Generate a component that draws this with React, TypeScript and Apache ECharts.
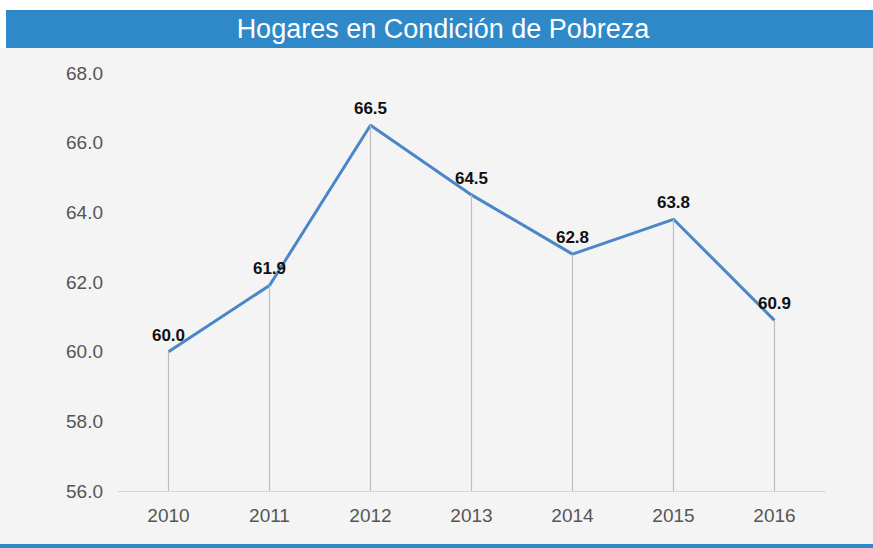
import React, { useEffect, useRef } from "react";
import * as echarts from "echarts";

const TITLE = "Hogares en Condición de Pobreza";
const YEARS = ["2010", "2011", "2012", "2013", "2014", "2015", "2016"];
const VALUES = [60.0, 61.9, 66.5, 64.5, 62.8, 63.8, 60.9];
const Y_MIN = 56;
const Y_MAX = 68;
const Y_STEP = 2;

export default function App() {
  const ref = useRef<HTMLDivElement>(null);
  useEffect(() => {
    if (!ref.current) return;
    const chart = echarts.init(ref.current, null, { renderer: "svg" });
    const font = "'Liberation Sans', Arial, sans-serif";
    chart.setOption({
      animation: false,
      backgroundColor: "#ffffff",
      graphic: [
        { type: "rect", left: 0, top: 48, z: -10, shape: { width: 873, height: 496 }, style: { fill: "#f4f4f4" } },
        { type: "rect", left: 6, top: 10, z: -5, shape: { width: 867, height: 38 }, style: { fill: "#2f89c9" } },
        { type: "rect", left: 0, top: 544, z: -5, shape: { width: 873, height: 4 }, style: { fill: "#2f89c9" } },
        {
          type: "text",
          x: 443,
          y: 29,
          z: 10,
          style: {
            text: TITLE,
            fill: "#ffffff",
            font: `27px ${font}`,
            textAlign: "center",
            textVerticalAlign: "middle",
          },
        },
      ],
      grid: { left: 118, right: 48, top: 73, bottom: 57 },
      xAxis: {
        type: "category",
        data: YEARS,
        boundaryGap: true,
        axisLine: { lineStyle: { color: "#d6d6d6", width: 1 } },
        axisTick: { show: false },
        axisLabel: { color: "#555555", fontSize: 19, fontFamily: font, margin: 15 },
        splitLine: { show: false },
      },
      yAxis: {
        type: "value",
        min: Y_MIN,
        max: Y_MAX,
        interval: Y_STEP,
        axisLine: { show: false },
        axisTick: { show: false },
        splitLine: { show: false },
        axisLabel: {
          color: "#555555",
          fontSize: 19,
          fontFamily: font,
          margin: 15,
          formatter: (v: number) => v.toFixed(1),
        },
      },
      series: [
        {
          type: "line",
          data: VALUES,
          symbol: "circle",
          symbolSize: 0,
          showSymbol: true,
          lineStyle: { color: "#4a86c8", width: 3 },
          itemStyle: { color: "#4a86c8" },
          label: {
            show: true,
            position: "top",
            distance: 8,
            color: "#111111",
            fontSize: 17,
            fontWeight: "bold",
            fontFamily: font,
            formatter: (p: any) => Number(p.value).toFixed(1),
          },
          markLine: {
            silent: true,
            symbol: ["none", "none"],
            label: { show: false },
            lineStyle: { color: "#bdbdbd", width: 1.2, type: "solid" },
            data: VALUES.map((v, i) => [
              { coord: [i, Y_MIN] },
              { coord: [i, v] },
            ]),
          },
          z: 3,
        },
      ],
    });
    return () => chart.dispose();
  }, []);
  return (
    <div
      ref={ref}
      style={{ position: "fixed", left: 0, top: 0, width: 873, height: 548 }}
    />
  );
}
